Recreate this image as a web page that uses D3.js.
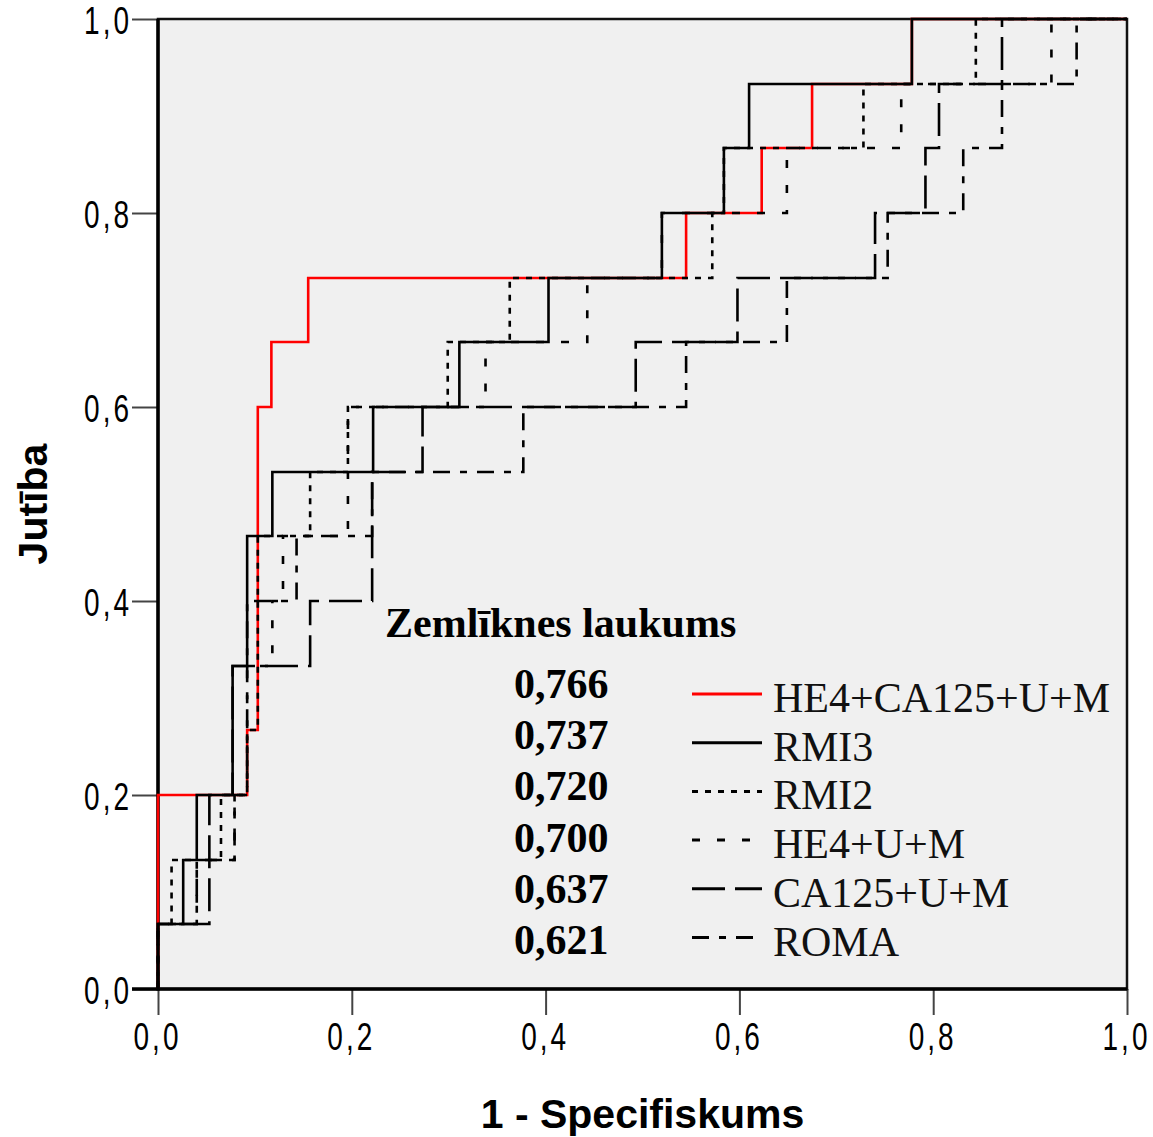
<!DOCTYPE html>
<html>
<head>
<meta charset="utf-8">
<script src="https://cdn.jsdelivr.net/npm/d3@7"></script>
<style>
  body { margin: 0; background: #fff; }
  svg { display: block; }
</style>
</head>
<body>
<svg id="chart" width="1153" height="1137"></svg>
<script>
// ROC curves, values (x = 1 - specificity, y = sensitivity)
const fprHe4Ca = [0, 0, 0.092, 0.103, 0.117, 0.155, 0.545, 0.623, 0.675, 0.778, 1];
const tprHe4Ca = [0, 0.2, 0.267, 0.6, 0.667, 0.733, 0.8, 0.867, 0.933, 1, 1];

const fprRmi3 = [0, 0, 0.026, 0.040, 0.077, 0.092, 0.118, 0.222, 0.311, 0.403, 0.520, 0.584, 0.610, 0.778, 1];
const tprRmi3 = [0, 0.067, 0.133, 0.2, 0.333, 0.467, 0.533, 0.6, 0.667, 0.733, 0.8, 0.867, 0.933, 1, 1];

const fprRmi2 = [0, 0, 0.014, 0.065, 0.092, 0.103, 0.157, 0.196, 0.299, 0.363, 0.572, 0.584, 0.728, 0.844, 1];
const tprRmi2 = [0, 0.067, 0.133, 0.2, 0.267, 0.467, 0.533, 0.6, 0.667, 0.733, 0.8, 0.867, 0.933, 1, 1];

const fprHe4 = [0, 0, 0.040, 0.079, 0.092, 0.118, 0.129, 0.196, 0.338, 0.443, 0.520, 0.649, 0.767, 0.922, 1];
const tprHe4 = [0, 0.067, 0.133, 0.2, 0.333, 0.4, 0.467, 0.6, 0.667, 0.733, 0.8, 0.867, 0.933, 1, 1];

const fprCa = [0, 0, 0.053, 0.077, 0.157, 0.221, 0.273, 0.493, 0.598, 0.740, 0.792, 0.806, 0.871, 1];
const tprCa = [0, 0.067, 0.2, 0.333, 0.4, 0.533, 0.6, 0.667, 0.733, 0.8, 0.867, 0.933, 1, 1];

const fprRoma = [0, 0, 0.040, 0.079, 0.092, 0.143, 0.221, 0.377, 0.545, 0.649, 0.753, 0.831, 0.871, 0.948, 1];
const tprRoma = [0, 0.067, 0.133, 0.2, 0.4, 0.467, 0.533, 0.6, 0.667, 0.733, 0.8, 0.867, 0.933, 1, 1];

const seriesNames = ["HE4+CA125+U+M", "RMI3", "RMI2", "HE4+U+M", "CA125+U+M", "ROMA"];
const aucValues = ["0,766", "0,737", "0,720", "0,700", "0,637", "0,621"];
const tickValues = [0, 0.2, 0.4, 0.6, 0.8, 1.0];

const svg = d3.select("#chart");
const x = d3.scaleLinear().domain([0, 1]).range([158, 1127]);
const y = d3.scaleLinear().domain([0, 1]).range([989, 19]);
const fmt = v => d3.format(".1f")(v).replace(".", ",");

// plot background
svg.append("rect")
  .attr("x", x(0)).attr("y", y(1))
  .attr("width", x(1) - x(0)).attr("height", y(0) - y(1))
  .attr("fill", "#f0f0f0");

// axes
const yAxis = svg.append("g")
  .attr("transform", `translate(${x(0)},0)`)
  .call(d3.axisLeft(y).tickValues(tickValues).tickSize(26).tickPadding(0).tickFormat(fmt));
const xAxis = svg.append("g")
  .attr("transform", `translate(0,${y(0)})`)
  .call(d3.axisBottom(x).tickValues(tickValues).tickSize(26).tickFormat(fmt));
[yAxis, xAxis].forEach(g => {
  g.select(".domain").remove();
  g.selectAll(".tick line").attr("stroke", "#444").attr("stroke-width", 2);
  g.selectAll("text")
    .attr("font-family", "Liberation Sans, Arial, sans-serif")
    .attr("font-size", 28)
    .attr("letter-spacing", 3)
    .attr("fill", "#000");
});
yAxis.selectAll("text").attr("transform", "scale(1,1.4)").attr("dy", "0.38em");
xAxis.selectAll("text").attr("y", 24).attr("dx", -1).attr("transform", "scale(1,1.4)");

// frame
svg.append("rect")
  .attr("x", x(0)).attr("y", y(1))
  .attr("width", x(1) - x(0)).attr("height", y(0) - y(1))
  .attr("fill", "none").attr("stroke", "#111").attr("stroke-width", 2.5);
svg.append("line").attr("x1", x(0)).attr("x2", x(0)).attr("y1", y(1)).attr("y2", y(0) + 1.5)
  .attr("stroke", "#000").attr("stroke-width", 3.5);
svg.append("line").attr("x1", x(0) - 26).attr("x2", x(1)).attr("y1", y(0)).attr("y2", y(0))
  .attr("stroke", "#000").attr("stroke-width", 3.5);

const series = [
  { fpr: fprHe4Ca, tpr: tprHe4Ca, color: "#ff0000", dash: null },
  { fpr: fprRmi3, tpr: tprRmi3, color: "#000", dash: null },
  { fpr: fprRmi2, tpr: tprRmi2, color: "#000", dash: "6,7" },
  { fpr: fprHe4, tpr: tprHe4, color: "#000", dash: "8,17" },
  { fpr: fprCa, tpr: tprCa, color: "#000", dash: "33,10" },
  { fpr: fprRoma, tpr: tprRoma, color: "#000", dash: "17,10,7,10" }
].map((s, i) => ({ ...s, name: seriesNames[i], auc: aucValues[i] }));

const line = d3.line()
  .x(d => x(d[0]))
  .y(d => y(d[1]))
  .curve(d3.curveStepAfter);

svg.append("g").selectAll("path")
  .data(series)
  .join("path")
  .attr("d", s => line(s.fpr.map((f, i) => [f, s.tpr[i]])))
  .attr("fill", "none")
  .attr("stroke", s => s.color)
  .attr("stroke-width", 2.6)
  .attr("stroke-dasharray", s => s.dash);

// axis titles
svg.append("text")
  .attr("x", (x(0) + x(1)) / 2).attr("y", 1128)
  .attr("text-anchor", "middle")
  .attr("font-family", "Liberation Sans, Arial, sans-serif")
  .attr("font-weight", "bold").attr("font-size", 41)
  .text("1 - Specifiskums");
svg.append("text")
  .attr("transform", `translate(47,${(y(0) + y(1)) / 2}) rotate(-90)`)
  .attr("text-anchor", "middle")
  .attr("font-family", "Liberation Sans, Arial, sans-serif")
  .attr("font-weight", "bold").attr("font-size", 41)
  .text("Jutība");

// legend
const serif = "Liberation Serif, Times New Roman, serif";
svg.append("text")
  .attr("x", 385).attr("y", 637)
  .attr("font-family", serif).attr("font-weight", "bold").attr("font-size", 42)
  .text("Zemlīknes laukums");

const leg = svg.append("g");
leg.selectAll("text.auc")
  .data(series)
  .join("text").attr("class", "auc")
  .attr("x", 514).attr("y", (d, i) => 698 + i * 51.2)
  .attr("font-family", serif).attr("font-weight", "bold").attr("font-size", 42)
  .text(d => d.auc);
leg.selectAll("line")
  .data(series)
  .join("line")
  .attr("x1", 692).attr("x2", 762)
  .attr("y1", (d, i) => 694 + i * 48.7).attr("y2", (d, i) => 694 + i * 48.7)
  .attr("stroke", d => d.color).attr("stroke-width", 3)
  .attr("stroke-dasharray", d => d.dash);
leg.selectAll("text.name")
  .data(series)
  .join("text").attr("class", "name")
  .attr("x", 773).attr("y", (d, i) => 712 + i * 48.7)
  .attr("font-family", serif).attr("font-size", 42).attr("fill", "#111")
  .text(d => d.name);
</script>
</body>
</html>
